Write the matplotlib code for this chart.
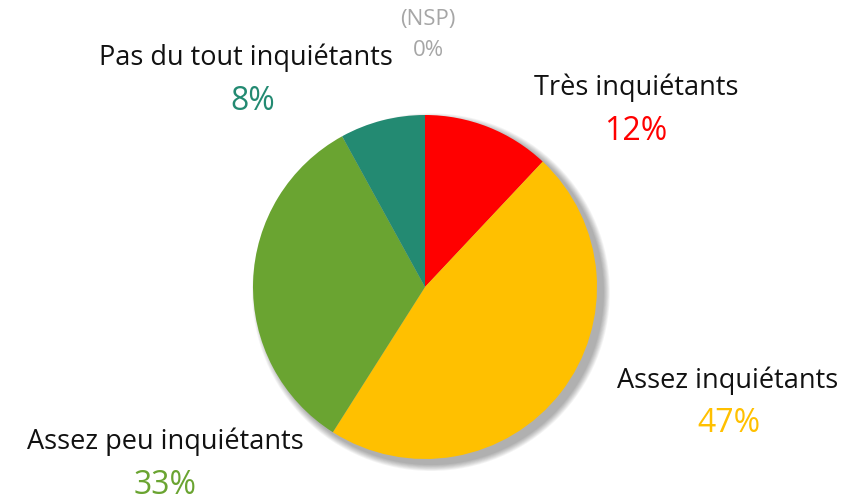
import matplotlib
matplotlib.use("Agg")
import matplotlib.pyplot as plt
from matplotlib.patches import Circle

categories = ["Très inquiétants", "Assez inquiétants", "Assez peu inquiétants", "Pas du tout inquiétants", "(NSP)"]
values = [12, 47, 33, 8, 0]
colors = ["#FF0000", "#FFC000", "#6AA431", "#238A72", "#A6A6A6"]

W, H = 859, 501
fig = plt.figure(figsize=(W / 100, H / 100), dpi=100)
plt.rcParams['font.family'] = ['Open Sans', 'DejaVu Sans']

# pie axes: center (425,287), radius 172 px
cx, cy, r = 425, 287, 172
ax = fig.add_axes([(cx - r) / W, (H - cy - r) / H, 2 * r / W, 2 * r / H])
ax.set_xlim(-1, 1)
ax.set_ylim(-1, 1)
ax.set_aspect('equal')
ax.axis('off')

# soft shadow
for i in range(8):
    rad = 1.0 + 0.005 * (8 - i)
    ax.add_patch(Circle((0.035, -0.03), rad, color='black', alpha=0.045, lw=0, clip_on=False, zorder=0))

ax.pie(values, colors=colors, startangle=90, counterclock=False, radius=1,
       wedgeprops=dict(linewidth=0), frame=False)
ax.set_xlim(-1, 1)
ax.set_ylim(-1, 1)

def px(x, y):
    return x / W, 1 - y / H

label_pos = [(636, 88), (728, 381), (165, 442), (246, 58), (428, 20)]
pct_pos = [(636, 131), (729, 424), (165, 486), (253, 101), (428, 50)]
label_colors = ["#111111", "#111111", "#111111", "#111111", "#A6A6A6"]
pct_sizes = [23, 23, 23, 23, 16]
label_sizes = [19.5, 19.5, 19.5, 19.5, 16]

for cat, v, col, lp, pp, lc, ps, ls in zip(categories, values, colors, label_pos, pct_pos, label_colors, pct_sizes, label_sizes):
    fig.text(*px(*lp), cat, ha='center', va='center', fontsize=ls, color=lc)
    fig.text(*px(*pp), f"{v}%", ha='center', va='center', fontsize=ps, color=col)

fig.savefig("out.png", dpi=100)
